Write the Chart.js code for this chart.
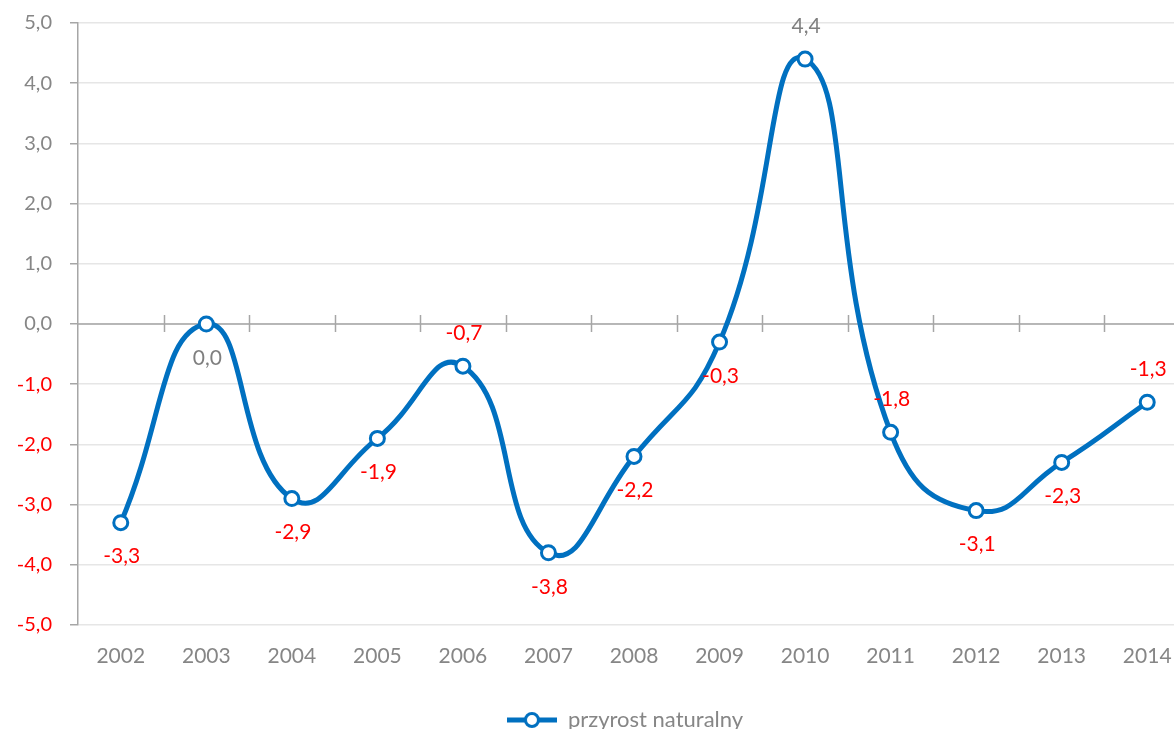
<!DOCTYPE html>
<html>
<head>
<meta charset="utf-8">
<script src="https://cdn.jsdelivr.net/npm/chart.js@4"></script>
<style>
    html, body { margin: 0; padding: 0; background: #fff; overflow: hidden; }
    #wrap { position: relative; margin-top: -7px; width: 1250px; height: 748px; }
</style>
</head>
<body>
<div id="wrap"><canvas id="ChartPrzyrost"></canvas></div>
<script>
var years = ['2002', '2003', '2004', '2005', '2006', '2007', '2008', '2009', '2010', '2011', '2012', '2013', '2014'];
var przyrost = [-3.3, 0.0, -2.9, -1.9, -0.7, -3.8, -2.2, -0.3, 4.4, -1.8, -3.1, -2.3, -1.3];
var yTicks = [-5, -4, -3, -2, -1, 0, 1, 2, 3, 4, 5];
// where each value label sits relative to its point
var labelSide = ['below', 'below', 'below', 'below', 'above', 'below', 'below', 'below', 'above', 'above', 'below', 'below', 'above'];

var blue = '#0070C0';
var grey = '#868686';
var red = '#FF0000';

function FormatPl(v) {
    return v.toFixed(1).replace('.', ',');
}

// small line + circle sample for the legend
function LegendSample() {
    var c = document.createElement('canvas');
    c.width = 50;
    c.height = 20;
    var g = c.getContext('2d');
    g.strokeStyle = blue;
    g.lineWidth = 5;
    g.beginPath();
    g.moveTo(0, 10);
    g.lineTo(50, 10);
    g.stroke();
    g.fillStyle = '#fff';
    g.lineWidth = 3;
    g.beginPath();
    g.arc(25, 10, 6.5, 0, Math.PI * 2);
    g.fill();
    g.stroke();
    return c;
}

var zeroAxis = {
    id: 'zeroAxis',
    beforeDatasetsDraw: function (chart) {
        var ctx = chart.ctx;
        var x = chart.scales.x;
        var y = chart.scales.y;
        var y0 = y.getPixelForValue(0);
        ctx.save();
        ctx.strokeStyle = '#a6a6a6';
        ctx.lineWidth = 1.5;
        ctx.beginPath();
        ctx.moveTo(chart.chartArea.left, y0);
        ctx.lineTo(chart.chartArea.right, y0);
        var i = 0;
        while (i < years.length - 1) {
            var bx = Math.round((x.getPixelForValue(i) + x.getPixelForValue(i + 1)) / 2) + 0.5;
            ctx.moveTo(bx, y0 - 9);
            ctx.lineTo(bx, y0 + 8);
            i++;
        }
        ctx.stroke();
        ctx.restore();
    }
};

var valueLabels = {
    id: 'valueLabels',
    afterDatasetsDraw: function (chart) {
        var ctx = chart.ctx;
        var meta = chart.getDatasetMeta(0);
        ctx.save();
        ctx.font = '21px Lato';
        ctx.textAlign = 'center';
        ctx.textBaseline = 'middle';
        meta.data.forEach(function (pt, i) {
            var v = przyrost[i];
            ctx.fillStyle = v < 0 ? red : '#7f7f7f';
            var dy = labelSide[i] === 'above' ? -33 : 34;
            ctx.fillText(FormatPl(v), pt.x + 1, pt.y + dy);
        });
        ctx.restore();
    }
};

var ctx = document.getElementById('ChartPrzyrost').getContext('2d');

var graph = new Chart(ctx, {
    type: 'line',
    data: {
        labels: years,
        datasets: [{
            label: 'przyrost naturalny',
            data: przyrost,
            borderColor: blue,
            borderWidth: 5,
            backgroundColor: '#fff',
            pointBackgroundColor: '#fff',
            pointBorderColor: blue,
            pointBorderWidth: 3,
            pointRadius: 7,
            pointStyle: 'circle',
            tension: 0.5,
            fill: false,
            clip: false
        }]
    },
    options: {
        responsive: true,
        maintainAspectRatio: false,
        animation: false,
        layout: { padding: { top: 6, left: 0, right: 0, bottom: 0 } },
        plugins: {
            tooltip: { enabled: false },
            legend: {
                position: 'bottom',
                labels: {
                    usePointStyle: true,
                    pointStyle: LegendSample(),
                    pointStyleWidth: 50,
                    color: grey,
                    font: { family: 'Lato', size: 22 },
                    padding: 4
                }
            }
        },
        scales: {
            x: {
                offset: true,
                grid: { display: false },
                border: { display: false },
                ticks: {
                    color: grey,
                    font: { family: 'Lato', size: 21 },
                    padding: 11,
                    maxRotation: 0
                },
                afterFit: function (s) { s.height = 80; }
            },
            y: {
                min: -5,
                max: 5,
                afterBuildTicks: function (s) {
                    s.ticks = yTicks.map(function (v) { return { value: v }; });
                },
                grid: {
                    color: '#e6e6e6',
                    lineWidth: 1.5,
                    tickLength: 8,
                    tickColor: '#a6a6a6'
                },
                border: { color: '#a6a6a6', width: 1.5 },
                ticks: {
                    padding: 18,
                    font: { family: 'Lato', size: 20 },
                    color: function (c) { return c.tick.value < 0 ? red : grey; },
                    callback: function (v) { return FormatPl(v); }
                },
                afterFit: function (s) { s.width = 78; }
            },
            y2: {
                position: 'right',
                min: -5,
                max: 5,
                grid: { display: false },
                border: { display: false },
                ticks: { display: false },
                afterFit: function (s) { s.width = 60; }
            }
        }
    },
    plugins: [zeroAxis, valueLabels]
});
</script>
</body>
</html>
